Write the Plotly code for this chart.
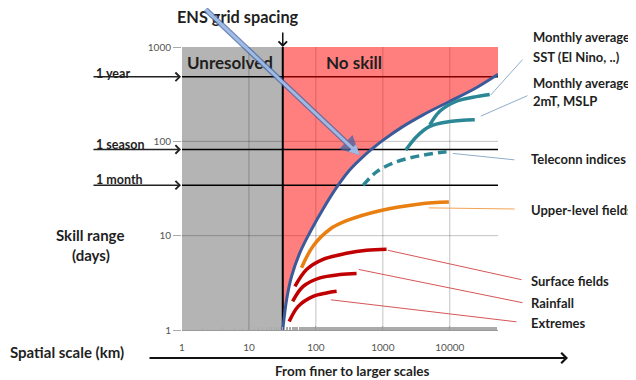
import numpy as np
import plotly.graph_objects as go

# ---------------- data ----------------
ens_grid_km = 32
x_max_km = 52500
y_max_days = 1000

boundary_km = [32, 36.5, 43.4, 57.7, 81.3, 128, 204, 322, 508, 760, 1010, 2010, 3990, 10000, 22300, 52500]
boundary_days = [1, 2.09, 3.72, 6.61, 10.8, 19.2, 32.5, 50, 69, 88, 103, 144, 191, 266, 354, 515]

sst_km = [5030, 7090, 12600, 22300, 39500]
sst_days = [149, 208, 266, 293, 313]
mslp_km = [2200, 3180, 5030, 10000, 23600]
mslp_days = [80.7, 112, 144, 162, 169]
tele_km = [508, 805, 1600, 3570, 8930]
tele_days = [34.1, 47.5, 60.6, 70.3, 77.6]
upper_km = [61, 91, 162, 287, 902, 3570, 9700]
upper_days = [4.57, 7.78, 11.7, 14.4, 18.4, 21.7, 22.7]
surface_km = [48.6, 72.6, 128, 287, 571, 1135]
surface_days = [2.90, 4.38, 5.61, 6.50, 7.0, 7.17]
rain_km = [44.9, 64.6, 115, 228, 405]
rain_days = [2.01, 2.90, 3.57, 3.87, 3.97]
extreme_km = [39.9, 54.4, 91, 144, 204]
extreme_days = [1.23, 1.78, 2.27, 2.47, 2.57]

ref_labels = ["1 year", "1 season", "1 month"]
ref_days = [483, 82, 34.3]

grid_km = [10, 100, 1000, 10000]
grid_days = [10, 100]
x_tick_vals = [1, 10, 100, 1000, 10000]
x_tick_text = ["1", "10", "100", "1000", "10000"]
y_tick_vals = [1, 10, 100, 1000]
y_tick_text = ["1", "10", "100", "1000"]

# leader-line anchor points on the curves (km, days)
leader_labels = ["sst", "mslp", "tele", "upper", "surface", "rain", "extreme"]
leader_km = [40900, 29000, 11100, 4860, 1190, 438, 167]
leader_days = [310, 185, 74.4, 19.7, 7.0, 4.38, 2.09]

arrow_tip_km, arrow_tip_days = 454, 71.3

# ---------------- layout geometry ----------------
# the page body has an 8px margin; positions below are given in page pixels
OFF = 8
W, H = 636 - OFF, 380 - OFF
L, T = 182 - OFF, 47 - OFF
PW, PH = 316, 283
R, B = W - L - PW, H - T - PH
XR = [0, np.log10(x_max_km)]
YR = [0, np.log10(y_max_days)]


def xpx(km):
    return OFF + L + PW * (np.log10(km) - XR[0]) / (XR[1] - XR[0])


def ypx(d):
    return OFF + T + PH * (1 - (np.log10(d) - YR[0]) / (YR[1] - YR[0]))


def xp(px):
    return (px - OFF - L) / PW


def yp(py):
    return (OFF + T + PH - py) / PH


FONT = "Lato, 'Open Sans', sans-serif"
TXT = "#1f1f1f"
TEAL = "#2b8796"
ORANGE = "#e97f10"
RED = "#c00000"
BLUE = "#3b5a9a"
GRID = "rgba(0,0,0,0.24)"

fig = go.Figure()

# 1-year line sits under the pink area
fig.add_trace(go.Scatter(x=[1, x_max_km], y=[ref_days[0]] * 2, mode="lines",
                         line=dict(color="black", width=1.5), hoverinfo="skip"))

# pink "No skill" area
fig.add_trace(go.Scatter(
    x=boundary_km + [x_max_km, ens_grid_km],
    y=boundary_days + [y_max_days, y_max_days],
    mode="lines", fill="toself", fillcolor="rgba(255,0,0,0.5)",
    line=dict(width=0), hoverinfo="skip"))

# season / month lines
for d in ref_days[1:]:
    fig.add_trace(go.Scatter(x=[1, x_max_km], y=[d, d], mode="lines",
                             line=dict(color="black", width=1.5), hoverinfo="skip"))

# ENS grid spacing vertical line
fig.add_trace(go.Scatter(x=[ens_grid_km, ens_grid_km], y=[1, y_max_days], mode="lines",
                         line=dict(color="black", width=2), hoverinfo="skip"))

# boundary curve
fig.add_trace(go.Scatter(x=boundary_km, y=boundary_days, mode="lines",
                         line=dict(color=BLUE, width=3, shape="spline"), hoverinfo="skip"))

curves = [
    (sst_km, sst_days, TEAL, None),
    (mslp_km, mslp_days, TEAL, None),
    (tele_km, tele_days, TEAL, "9px,5px"),
    (upper_km, upper_days, ORANGE, None),
    (surface_km, surface_days, RED, None),
    (rain_km, rain_days, RED, None),
    (extreme_km, extreme_days, RED, None),
]
for xs, ys, c, dash in curves:
    fig.add_trace(go.Scatter(x=xs, y=ys, mode="lines",
                             line=dict(color=c, width=3.5, shape="spline", dash=dash),
                             hoverinfo="skip"))

shapes = [dict(type="rect", xref="x", yref="y", x0=1, x1=ens_grid_km, y0=1, y1=y_max_days,
               fillcolor="#b4b4b4", line=dict(width=0), layer="below")]
for g in grid_km:
    shapes.append(dict(type="line", xref="x", yref="y", x0=g, x1=g, y0=1, y1=y_max_days,
                       line=dict(color=GRID, width=1), layer="below"))
for g in grid_days:
    shapes.append(dict(type="line", xref="x", yref="y", x0=1, x1=x_max_km, y0=g, y1=g,
                       line=dict(color=GRID, width=1), layer="below"))

ann = []


def label(text, px, py, size=13, anchor="left", bold=True, color=TXT):
    if anchor == "left":
        px -= 2
    ann.append(dict(text=("<b>%s</b>" % text) if bold else text, xref="paper", yref="paper",
                    x=xp(px), y=yp(py), xanchor=anchor, yanchor="middle", showarrow=False,
                    font=dict(family=FONT, size=size, color=color)))


label("ENS grid spacing", 238, 17, size=16.3, anchor="center")
label("Unresolved", 187, 63, size=17)
label("No skill", 326, 63, size=17)
label("Monthly average", 533, 37)
label("SST (El Nino, ..)", 533, 57)
label("Monthly average", 533, 83)
label("2mT, MSLP", 533, 101)
label("Teleconn indices", 531, 159)
label("Upper-level fields", 531, 210)
label("Surface fields", 531, 281)
label("Rainfall", 531, 303)
label("Extremes", 531, 323)
label("Skill range", 90, 235, size=15, anchor="center")
label("(days)", 91, 255, size=15, anchor="center")
label("Spatial scale (km)", 10, 352, size=15)
label("From finer to larger scales", 352, 371, size=13.5, anchor="center")

# reference-line labels and arrows
ref_text_y = [73, 144, 179]
for lab, d, ty in zip(ref_labels, ref_days, ref_text_y):
    label(lab, 96, ty, size=12.5)
    ann.append(dict(text="", xref="paper", yref="y", x=xp(181), y=np.log10(d),
                    ax=92 - 181, ay=0, axref="pixel", ayref="pixel", showarrow=True,
                    arrowhead=4, arrowsize=1.1, arrowwidth=1.5, arrowcolor="#222"))

# ENS grid spacing arrow
ann.append(dict(text="", xref="x", yref="paper", x=np.log10(ens_grid_km), y=1.0,
                ax=0, ay=-16, axref="pixel", ayref="pixel", showarrow=True,
                arrowhead=4, arrowsize=1.1, arrowwidth=1.5, arrowcolor="#111"))

# bottom scale arrow
ann.append(dict(text="", xref="paper", yref="paper", x=xp(568), y=yp(358),
                ax=148 - 568, ay=0, axref="pixel", ayref="pixel", showarrow=True,
                arrowhead=4, arrowsize=1.0, arrowwidth=2, arrowcolor="#111"))

# leader lines
leader_tails = [(524, 58), (529, 95), (516, 160), (516, 209), (523, 280), (524, 303), (518, 322)]
leader_colors = ["#8fadcc", "#8fadcc", "#8fadcc", "#f2a455", "#d65656", "#d65656", "#d65656"]
for km, d, (tx, ty), c in zip(leader_km, leader_days, leader_tails, leader_colors):
    ann.append(dict(text="", xref="x", yref="y", x=np.log10(km), y=np.log10(d),
                    ax=tx - xpx(km), ay=ty - ypx(d), axref="pixel", ayref="pixel",
                    showarrow=True, arrowhead=0, arrowwidth=1, arrowcolor=c))

# big blue arrow
for wdt, col in [(5.5, "rgba(70,100,165,0.75)"), (3, "rgba(165,195,235,0.9)")]:
    ann.append(dict(text="", xref="x", yref="y", x=np.log10(arrow_tip_km), y=np.log10(arrow_tip_days),
                    ax=204 - xpx(arrow_tip_km), ay=-3 - ypx(arrow_tip_days),
                    axref="pixel", ayref="pixel", showarrow=True,
                    arrowhead=2, arrowsize=0.7, arrowwidth=wdt, arrowcolor=col))

fig.update_layout(
    width=W, height=H, margin=dict(l=L, r=R, t=T, b=B),
    paper_bgcolor="white", plot_bgcolor="white", showlegend=False,
    hovermode=False, shapes=shapes, annotations=ann,
    xaxis=dict(type="log", range=XR, showgrid=False, zeroline=False,
               tickvals=x_tick_vals, ticktext=x_tick_text, ticks="inside", ticklen=4,
               tickcolor="#999", showline=True, linecolor="#9a9a9a", linewidth=1,
               minor=dict(ticks="inside", ticklen=3, tickcolor="#aaa", showgrid=False),
               ticklabelstandoff=8,
               tickfont=dict(family=FONT, size=10, color="#555")),
    yaxis=dict(type="log", range=YR, showgrid=False, zeroline=False,
               tickvals=y_tick_vals, ticktext=y_tick_text, ticks="outside", ticklen=8,
               tickcolor="#aaa", showline=False,
               tickfont=dict(family=FONT, size=10, color="#555")),
)

fig.write_html("out.html")
